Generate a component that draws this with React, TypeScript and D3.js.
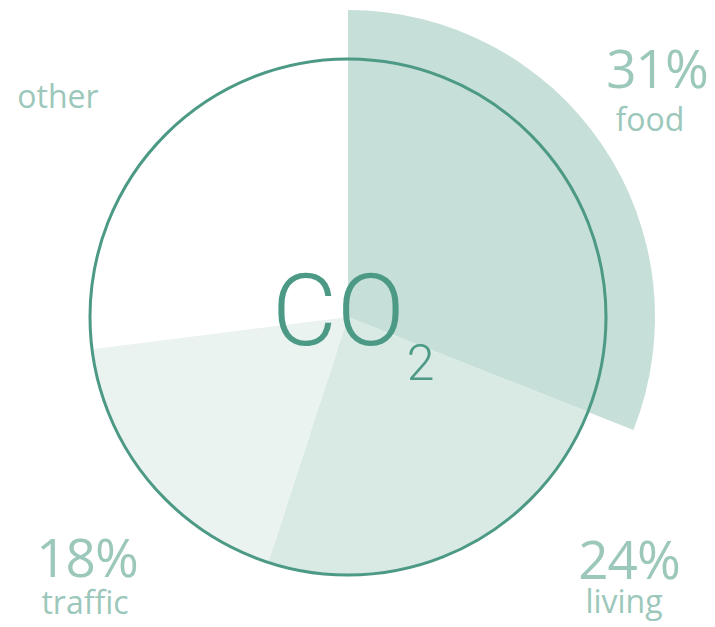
import React, { useEffect, useRef } from 'react';
import * as d3 from 'd3';

const categories = ['food', 'living', 'traffic', 'other'];
const shares = [31, 24, 18, 27];
const fills = ['#c6dfd8', '#d9eae5', '#ebf3f1', 'none'];
const highlighted = ['food'];

// [pct x, pct baseline, word x, word baseline]
const labelPos: Record<string, number[]> = {
  food: [657, 88, 650, 131],
  living: [629, 579, 624, 613],
  traffic: [87, 577, 85, 614],
};

const App: React.FC = () => {
  const svgRef = useRef<SVGSVGElement>(null);
  const width = 715;
  const height = 627;

  useEffect(() => {
    if (!svgRef.current) return;
    const svg = d3.select(svgRef.current);
    svg.selectAll('*').remove();

    const cx = 348;
    const cy = 317;
    const radius = 258;
    const bigRadius = 307;
    const green = '#4c9a85';
    const light = '#9cc7bb';

    const pie = d3.pie<number>().sort(null).value(d => d)(shares);
    const arc = d3.arc<any>()
      .innerRadius(0)
      .outerRadius((d: any) => highlighted.includes(categories[d.index]) ? bigRadius : radius);

    const g = svg.append('g').attr('transform', `translate(${cx},${cy})`);

    g.selectAll('path')
      .data(pie)
      .join('path')
      .attr('d', arc)
      .attr('fill', (d: any) => fills[d.index]);

    g.append('circle')
      .attr('r', radius)
      .attr('fill', 'none')
      .attr('stroke', green)
      .attr('stroke-width', 3);

    const co = g.append('text')
      .attr('x', -76)
      .attr('y', 28)
      .attr('font-family', 'Roboto')
      .attr('font-weight', 300)
      .attr('font-size', 100)
      .attr('fill', green);
    co.append('tspan').text('CO');
    co.append('tspan')
      .attr('dx', 2)
      .attr('dy', 35)
      .attr('font-size', 50)
      .text('2');

    const labels = svg.append('g').attr('font-family', 'Open Sans').attr('fill', light).attr('text-anchor', 'middle');

    categories.forEach((c, i) => {
      const pos = labelPos[c];
      if (pos) {
        labels.append('text')
          .attr('x', pos[0])
          .attr('y', pos[1])
          .attr('font-size', 53)
          .attr('letter-spacing', -1)
          .text(`${shares[i]}%`);
        labels.append('text')
          .attr('x', pos[2])
          .attr('y', pos[3])
          .attr('font-size', 32)
          .text(c);
      } else {
        labels.append('text')
          .attr('x', 58)
          .attr('y', 108)
          .attr('font-size', 32)
          .text(c);
      }
    });
  }, []);

  return (
    <svg ref={svgRef} width={width} height={height}
      style={{ position: 'absolute', left: 0, top: 0, background: '#fff' }} />
  );
};

export default App;
